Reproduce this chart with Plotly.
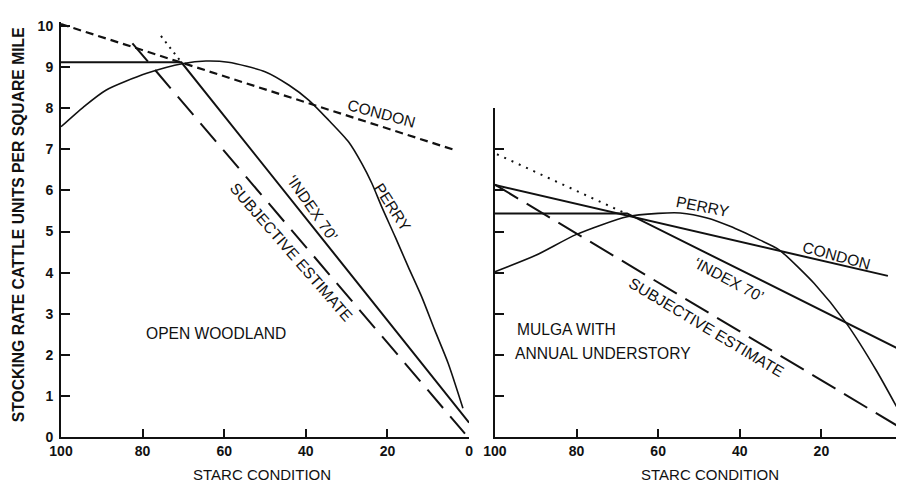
import plotly.graph_objects as go

# ---------------- data: OPEN WOODLAND (left panel) ----------------
ow_condon_x = [100, 4]
ow_condon_y = [10.05, 7.0]

ow_index70_x = [100, 70.5, 0]
ow_index70_y = [9.12, 9.12, 0.35]

ow_index70_dot_x = [75.5, 70.5]
ow_index70_dot_y = [9.76, 9.12]

ow_subjective_x = [82.5, 1.0]
ow_subjective_y = [9.58, 0.08]

ow_perry_x = [100, 94.5, 89, 79, 70, 64.5, 59, 50, 44.1, 39.3, 34.4, 29.5, 26.3, 23.8, 21.4,
              18.1, 14.9, 11.6, 8.4, 5.1, 1.5]
ow_perry_y = [7.55, 8.03, 8.44, 8.85, 9.09, 9.15, 9.12, 8.89, 8.56, 8.2, 7.71, 7.18, 6.66, 6.17, 5.6,
              4.87, 4.14, 3.41, 2.6, 1.79, 0.7]

# ---------------- data: MULGA WITH ANNUAL UNDERSTORY (right panel) ----------------
mu_condon_x = [100, 3.7]
mu_condon_y = [6.13, 3.92]

mu_index70_x = [100, 67.6, 0]
mu_index70_y = [5.44, 5.44, 2.09]

mu_index70_dot_x = [99.5, 68]
mu_index70_dot_y = [6.88, 5.44]

mu_subjective_x = [100, 0]
mu_subjective_y = [6.14, 0.19]

mu_perry_x = [100, 90, 80, 67.6, 60, 54.6, 48, 42.2, 35, 30.9, 29.3, 21.8, 13.9, 6.6, 0]
mu_perry_y = [4.02, 4.42, 4.93, 5.36, 5.44, 5.45, 5.33, 5.12, 4.79, 4.59, 4.47, 3.74, 2.77, 1.63, 0.45]

# ---------------- tick labels ----------------
x_ticks = [100, 80, 60, 40, 20, 0]
y_ticks_left = [0, 1, 2, 3, 4, 5, 6, 7, 8, 9, 10]
y_ticks_right = [1, 2, 3, 4, 5, 6, 7, 8]

FONT = "Liberation Sans, Arial, sans-serif"
BLACK = "#111111"

fig = go.Figure()

def add(x, y, xa, ya, width=1.8, dash="solid", shape="linear"):
    fig.add_trace(go.Scatter(
        x=x, y=y, xaxis=xa, yaxis=ya, mode="lines",
        line=dict(color=BLACK, width=width, dash=dash, shape=shape, smoothing=0.7),
        showlegend=False, hoverinfo="skip"))

# left panel
add(ow_condon_x, ow_condon_y, "x", "y", 2.2, "8px,5px")
add(ow_index70_x, ow_index70_y, "x", "y", 2.0)
add(ow_index70_dot_x, ow_index70_dot_y, "x", "y", 2.0, "2px,5px")
add(ow_subjective_x, ow_subjective_y, "x", "y", 2.0, "24px,11px")
add(ow_perry_x, ow_perry_y, "x", "y", 1.6, "solid", "spline")

# right panel
add(mu_condon_x, mu_condon_y, "x2", "y2", 2.0)
add(mu_index70_x, mu_index70_y, "x2", "y2", 2.0)
add(mu_index70_dot_x, mu_index70_dot_y, "x2", "y2", 2.0, "2px,6px")
add(mu_subjective_x, mu_subjective_y, "x2", "y2", 2.0, "27px,10px")
add(mu_perry_x, mu_perry_y, "x2", "y2", 1.6, "solid", "spline")

# the page body has an 8px margin, so the figure is 8px smaller than the window
W, H = 896, 475
ML, MR, MT, MB = 53, 0, 14, 46
PW, PH = W - ML - MR, H - MT - MB

def xp(page_px):
    return (page_px - 8 - ML) / PW

def yp(page_py):
    return (H - MB - (page_py - 8)) / PH

tickfont = dict(family=FONT, size=14, color=BLACK, weight="bold")

axis_common = dict(showline=True, linecolor=BLACK, linewidth=2, showgrid=False,
                   zeroline=False, ticks="inside", tickcolor=BLACK, tickwidth=1.5,
                   tickfont=tickfont)

fig.update_layout(
    width=W, height=H,
    margin=dict(l=ML, r=MR, t=MT, b=MB, pad=0),
    paper_bgcolor="white", plot_bgcolor="white",
    xaxis=dict(domain=[0, xp(471)], range=[100, 0], tickmode="array",
               tickvals=x_ticks, ticktext=[str(v) for v in x_ticks],
               ticklen=8, anchor="y", ticklabelstandoff=0, **axis_common),
    yaxis=dict(domain=[0, 1], range=[0, 10.1], tickmode="array",
               tickvals=y_ticks_left, ticktext=[str(v) for v in y_ticks_left],
               ticklen=9, anchor="x", ticklabelstandoff=3, **axis_common),
    xaxis2=dict(domain=[xp(497), 1], range=[100, 100 - 407 / 4.1], tickmode="array",
                tickvals=x_ticks, ticktext=[str(v) for v in x_ticks],
                ticklen=8, anchor="y2", ticklabelstandoff=0, **axis_common),
    yaxis2=dict(domain=[0, 8 * 41.1 / PH], range=[0, 8], tickmode="array",
                tickvals=y_ticks_right, showticklabels=False,
                ticklen=9, anchor="x2", **axis_common),
)

def label(text, px, py, angle=0, size=15.6, xanchor="center", bold=False):
    f = dict(family=FONT, size=size, color=BLACK)
    if bold:
        f["weight"] = "bold"
    fig.add_annotation(text=text, x=xp(px), y=yp(py), xref="paper", yref="paper",
                       showarrow=False, textangle=angle, font=f,
                       xanchor=xanchor, yanchor="middle")

# left panel labels
label("CONDON", 383, 113, 15)
label("PERRY", 394, 208, 57)
label("‘INDEX 70’", 313, 208, 55)
label("SUBJECTIVE ESTIMATE", 293, 252, 49)
label("OPEN WOODLAND", 217, 333, 0)

# right panel labels
label("PERRY", 706, 206, 11)
label("CONDON", 840, 255, 15)
label("‘INDEX 70’", 732, 279, 28)
label("SUBJECTIVE ESTIMATE", 710, 327, 31)
label("MULGA WITH", 517, 329, 0, xanchor="left")
label("ANNUAL UNDERSTORY", 515, 353, 0, xanchor="left")

# axis titles
label("STARC CONDITION", 263, 474, 0, size=15)
label("STARC CONDITION", 713, 474, 0, size=15)
label("STOCKING RATE CATTLE UNITS PER SQUARE MILE", 18, 225, -90, size=15.7, bold=True)

fig.write_html("out.html")
